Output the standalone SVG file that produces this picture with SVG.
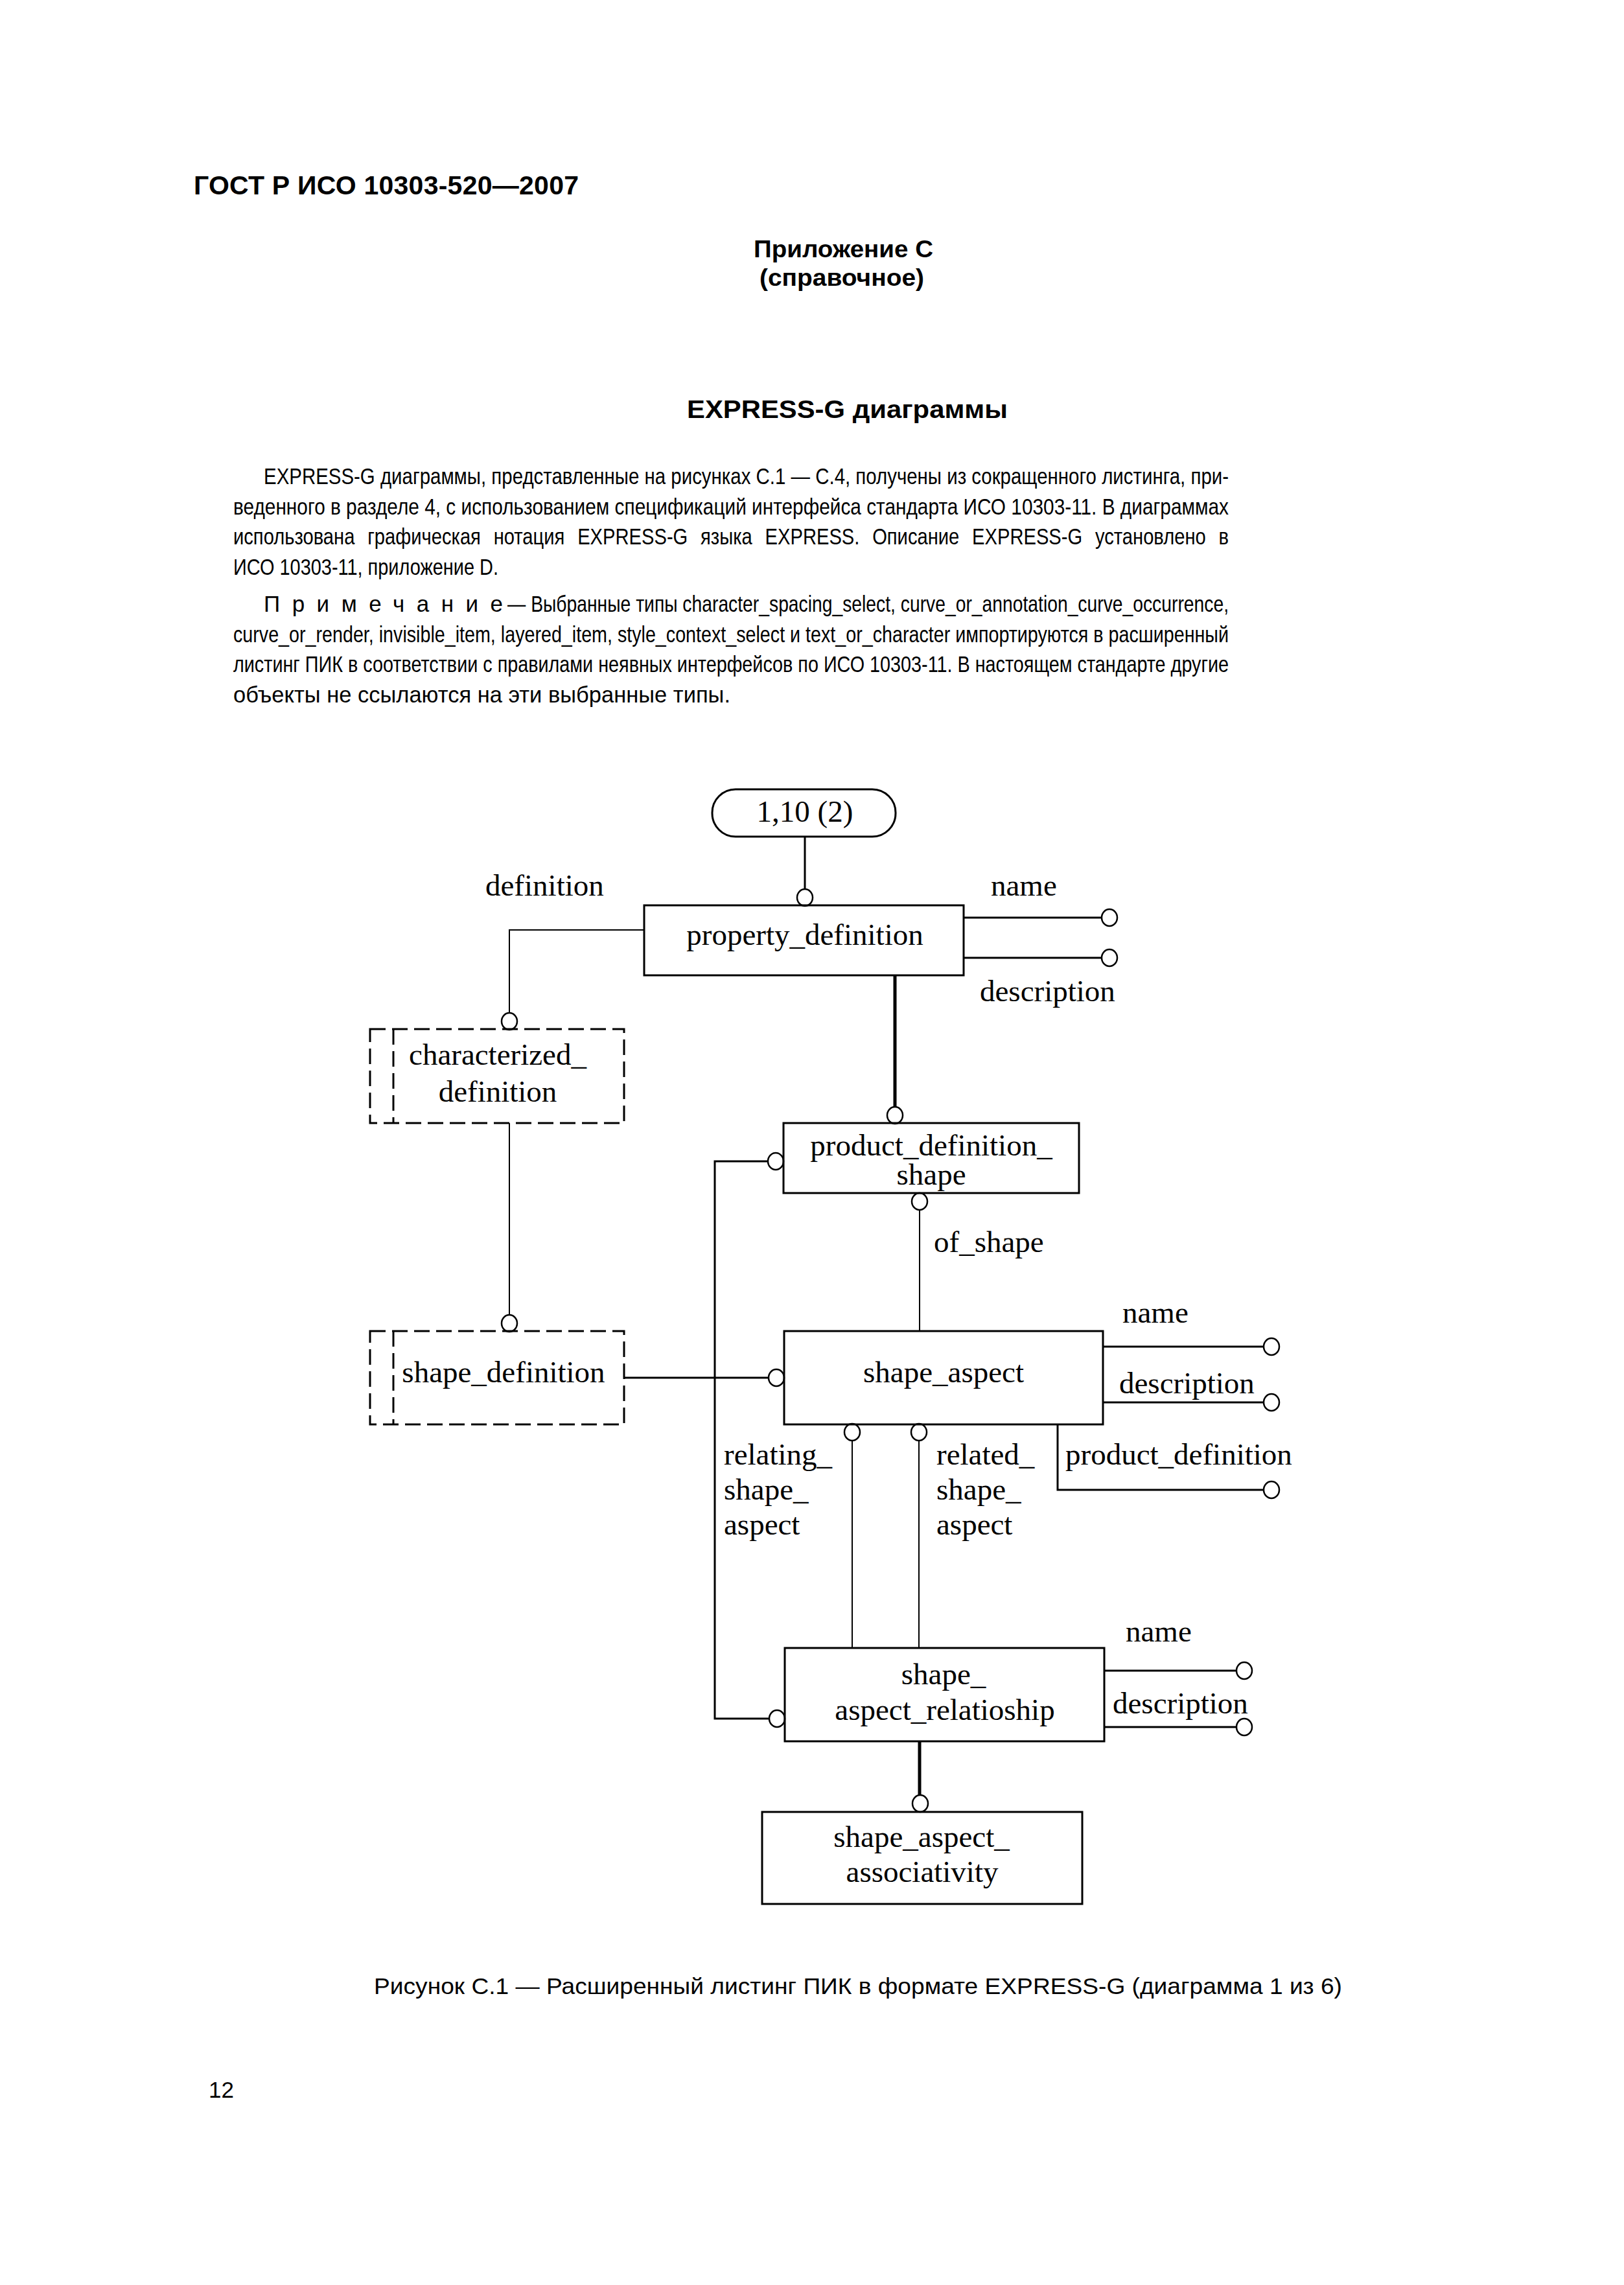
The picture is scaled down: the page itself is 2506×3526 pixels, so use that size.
<svg xmlns="http://www.w3.org/2000/svg" width="2506" height="3526" viewBox="0 0 2506 3526">
<style>
.hd{font-family:"Liberation Sans",Arial,sans-serif;font-weight:bold;fill:#000}
.tx{font-family:"Liberation Sans",Arial,sans-serif;font-size:35px;fill:#000}
.dg{font-family:"Liberation Serif","Times New Roman",serif;font-size:47px;fill:#000}
.box{fill:none;stroke:#000;stroke-width:3}
.dbox{fill:none;stroke:#000;stroke-width:3;stroke-dasharray:24 10}
.ln{fill:none;stroke:#000;stroke-width:3}
.th{fill:none;stroke:#000;stroke-width:2}
.tk{fill:none;stroke:#000;stroke-width:5}
.cr{fill:#fff;stroke:#000;stroke-width:2.5}
</style>
<rect width="2506" height="3526" fill="#fff"/>

<g id="page-text">
<text class="hd" x="299" y="300" font-size="41" textLength="594">ГОСТ Р ИСО 10303-520—2007</text>
<text class="hd" x="1163" y="397" font-size="37" textLength="277" lengthAdjust="spacingAndGlyphs">Приложение С</text>
<text class="hd" x="1172" y="441" font-size="37" textLength="254" lengthAdjust="spacingAndGlyphs">(справочное)</text>
<text class="hd" x="1060" y="645" font-size="39" textLength="495" lengthAdjust="spacingAndGlyphs">EXPRESS-G диаграммы</text>
<text class="tx" x="407" y="747" textLength="1489" lengthAdjust="spacingAndGlyphs">EXPRESS-G диаграммы, представленные на рисунках С.1 — С.4, получены из сокращенного листинга, при-</text>
<text class="tx" x="360" y="794" textLength="1536" lengthAdjust="spacingAndGlyphs">веденного в разделе 4, с использованием спецификаций интерфейса стандарта ИСО 10303-11. В диаграммах</text>
<text class="tx" x="360" y="840" textLength="1536" lengthAdjust="spacingAndGlyphs" word-spacing="14">использована графическая нотация EXPRESS-G языка EXPRESS. Описание EXPRESS-G установлено в</text>
<text class="tx" x="360" y="887" textLength="409" lengthAdjust="spacingAndGlyphs">ИСО 10303-11, приложение D.</text>
<text class="tx" x="407" y="944" textLength="369" lengthAdjust="spacing">Примечание</text>
<text class="tx" x="783" y="944" textLength="1113" lengthAdjust="spacingAndGlyphs">— Выбранные типы character_spacing_select, curve_or_annotation_curve_occurrence,</text>
<text class="tx" x="360" y="991" textLength="1536" lengthAdjust="spacingAndGlyphs">curve_or_render, invisible_item, layered_item, style_context_select и text_or_character импортируются в расширенный</text>
<text class="tx" x="360" y="1037" textLength="1536" lengthAdjust="spacingAndGlyphs">листинг ПИК в соответствии с правилами неявных интерфейсов по ИСО 10303-11. В настоящем стандарте другие</text>
<text class="tx" x="360" y="1084" textLength="767" lengthAdjust="spacingAndGlyphs">объекты не ссылаются на эти выбранные типы.</text>
<text class="tx" x="577" y="3077" font-size="38" textLength="1494" lengthAdjust="spacingAndGlyphs">Рисунок С.1 — Расширенный листинг ПИК в формате EXPRESS-G (диаграмма 1 из 6)</text>
<text class="tx" x="322" y="3237" font-size="36">12</text>
</g>

<g id="connectors">
<line class="ln" x1="1242" y1="1291" x2="1242" y2="1372"/>
<line class="ln" x1="1487" y1="1416" x2="1699" y2="1416"/>
<line class="ln" x1="1487" y1="1478" x2="1699" y2="1478"/>
<polyline class="th" points="994,1435 786,1435 786,1563"/>
<line class="tk" x1="1381" y1="1505" x2="1381" y2="1708"/>
<polyline class="ln" points="1185,1792 1103,1792 1103,2652 1186,2652"/>
<line class="th" x1="1419" y1="1867" x2="1419" y2="2054"/>
<line class="th" x1="786" y1="1733" x2="786" y2="2029"/>
<line class="ln" x1="963" y1="2126" x2="1185" y2="2126"/>
<line class="ln" x1="1702" y1="2078" x2="1949" y2="2078"/>
<line class="ln" x1="1702" y1="2164" x2="1949" y2="2164"/>
<polyline class="ln" points="1632,2198 1632,2299 1949,2299"/>
<line class="th" x1="1315" y1="2223" x2="1315" y2="2543"/>
<line class="th" x1="1418" y1="2223" x2="1418" y2="2543"/>
<line class="ln" x1="1704" y1="2578" x2="1907" y2="2578"/>
<line class="ln" x1="1704" y1="2665" x2="1907" y2="2665"/>
<line class="tk" x1="1419" y1="2687" x2="1419" y2="2770"/>
<ellipse class="cr" cx="1242" cy="1385" rx="12" ry="13"/>
<ellipse class="cr" cx="1712" cy="1416" rx="12" ry="13"/>
<ellipse class="cr" cx="1712" cy="1478" rx="12" ry="13"/>
<ellipse class="cr" cx="786" cy="1576" rx="12" ry="13"/>
<ellipse class="cr" cx="1381" cy="1721" rx="12" ry="13"/>
<ellipse class="cr" cx="1197" cy="1792" rx="12" ry="13"/>
<ellipse class="cr" cx="1419" cy="1854" rx="12" ry="13"/>
<ellipse class="cr" cx="786" cy="2042" rx="12" ry="13"/>
<ellipse class="cr" cx="1198" cy="2126" rx="12" ry="13"/>
<ellipse class="cr" cx="1962" cy="2078" rx="12" ry="13"/>
<ellipse class="cr" cx="1962" cy="2164" rx="12" ry="13"/>
<ellipse class="cr" cx="1962" cy="2299" rx="12" ry="13"/>
<ellipse class="cr" cx="1315" cy="2210" rx="12" ry="13"/>
<ellipse class="cr" cx="1418" cy="2210" rx="12" ry="13"/>
<ellipse class="cr" cx="1199" cy="2652" rx="12" ry="13"/>
<ellipse class="cr" cx="1920" cy="2578" rx="12" ry="13"/>
<ellipse class="cr" cx="1920" cy="2665" rx="12" ry="13"/>
<ellipse class="cr" cx="1420" cy="2783" rx="12" ry="13"/>
</g>

<g id="labels">
<text class="dg" x="749" y="1382">definition</text>
<text class="dg" x="1529" y="1382">name</text>
<text class="dg" x="1512" y="1545">description</text>
<text class="dg" x="1441" y="1932">of_shape</text>
<text class="dg" x="1732" y="2041">name</text>
<text class="dg" x="1727" y="2150">description</text>
<text class="dg" x="1644" y="2260">product_definition</text>
<text class="dg" x="1117" y="2260">relating_</text>
<text class="dg" x="1117" y="2314">shape_</text>
<text class="dg" x="1117" y="2368">aspect</text>
<text class="dg" x="1445" y="2260">related_</text>
<text class="dg" x="1445" y="2314">shape_</text>
<text class="dg" x="1445" y="2368">aspect</text>
<text class="dg" x="1737" y="2533">name</text>
<text class="dg" x="1717" y="2644">description</text>
</g>

<g id="page-ref">
<rect class="box" x="1099" y="1218" width="283" height="73" rx="36" ry="36"/>
<text class="dg" x="1242" y="1268" text-anchor="middle">1,10 (2)</text>
</g>
<g id="property_definition">
<rect class="box" x="994" y="1397" width="493" height="108"/>
<text class="dg" x="1242" y="1458" text-anchor="middle">property_definition</text>
</g>
<g id="characterized_definition">
<rect class="dbox" x="571" y="1588" width="392" height="145"/>
<line class="dbox" x1="607" y1="1588" x2="607" y2="1733"/>
<text class="dg" x="768" y="1643" text-anchor="middle">characterized_</text>
<text class="dg" x="768" y="1700" text-anchor="middle">definition</text>
</g>
<g id="product_definition_shape">
<rect class="box" x="1209" y="1733" width="456" height="108"/>
<text class="dg" x="1437" y="1783" text-anchor="middle">product_definition_</text>
<text class="dg" x="1437" y="1828" text-anchor="middle">shape</text>
</g>
<g id="shape_definition">
<rect class="dbox" x="571" y="2054" width="392" height="144"/>
<line class="dbox" x1="607" y1="2054" x2="607" y2="2198"/>
<text class="dg" x="777" y="2133" text-anchor="middle">shape_definition</text>
</g>
<g id="shape_aspect">
<rect class="box" x="1210" y="2054" width="492" height="144"/>
<text class="dg" x="1456" y="2133" text-anchor="middle">shape_aspect</text>
</g>
<g id="shape_aspect_relationship">
<rect class="box" x="1211" y="2543" width="493" height="144"/>
<text class="dg" x="1456" y="2599" text-anchor="middle">shape_</text>
<text class="dg" x="1458" y="2654" text-anchor="middle">aspect_relatioship</text>
</g>
<g id="shape_aspect_associativity">
<rect class="box" x="1176" y="2796" width="494" height="142"/>
<text class="dg" x="1422" y="2850" text-anchor="middle">shape_aspect_</text>
<text class="dg" x="1423" y="2904" text-anchor="middle">associativity</text>
</g>
</svg>
